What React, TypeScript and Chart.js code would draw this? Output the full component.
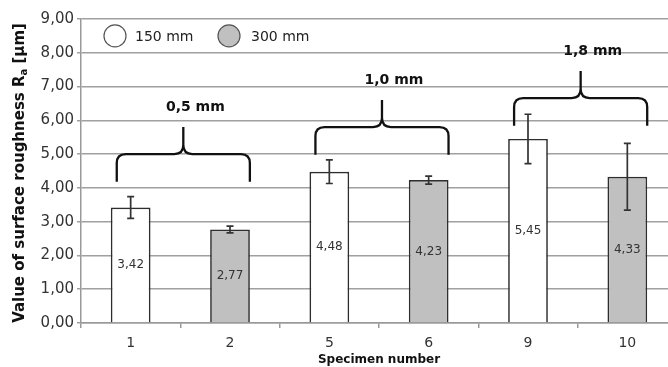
import React, { useEffect, useRef } from "react";
import { Chart, registerables } from "chart.js";

Chart.register(...registerables);

const categories = ["1", "2", "5", "6", "9", "10"];
const values = [3.42, 2.77, 4.48, 4.23, 5.45, 4.33];
const errors = [0.32, 0.1, 0.35, 0.12, 0.73, 0.99];
const seriesOf = ["150 mm", "300 mm", "150 mm", "300 mm", "150 mm", "300 mm"];
const seriesNames = ["150 mm", "300 mm"];
const seriesColors = ["#ffffff", "#c0c0c0"];
const yTicks = [0, 1, 2, 3, 4, 5, 6, 7, 8, 9];
const groupLabels = ["0,5 mm", "1,0 mm", "1,8 mm"];
const groupStart = [0, 2, 4];
const groupEnd = [1, 3, 5];
const groupLevel = [5.0, 5.8, 6.66];

const FONT = "'DejaVu Sans', sans-serif";
const fmt = (v: number) => v.toFixed(2).replace(".", ",");

const overlayPlugin = {
  id: "overlay",
  afterDatasetsDraw(chart: any) {
    const ctx = chart.ctx;
    const x = chart.scales.x;
    const y = chart.scales.y;
    const meta = chart.getDatasetMeta(0);
    ctx.save();
    // error bars
    ctx.strokeStyle = "#333333";
    ctx.lineWidth = 1.7;
    values.forEach((v, i) => {
      const bar = meta.data[i];
      const cx = bar.x;
      const yt = y.getPixelForValue(v + errors[i]);
      const yb = y.getPixelForValue(v - errors[i]);
      ctx.beginPath();
      ctx.moveTo(cx, yt);
      ctx.lineTo(cx, yb);
      ctx.moveTo(cx - 3.5, yt);
      ctx.lineTo(cx + 3.5, yt);
      ctx.moveTo(cx - 3.5, yb);
      ctx.lineTo(cx + 3.5, yb);
      ctx.stroke();
    });
    // value labels
    ctx.fillStyle = "#333333";
    ctx.font = `12px ${FONT}`;
    ctx.textAlign = "center";
    ctx.textBaseline = "middle";
    values.forEach((v, i) => {
      const bar = meta.data[i];
      const my = (y.getPixelForValue(v) + y.getPixelForValue(0)) / 2;
      ctx.fillText(fmt(v), bar.x, my);
    });
    // braces
    const catW = x.getPixelForValue(1) - x.getPixelForValue(0);
    ctx.strokeStyle = "#111111";
    ctx.lineWidth = 2.3;
    groupLabels.forEach((lab, g) => {
      const x0 = x.getPixelForValue(groupStart[g]) - catW * 0.14;
      const x1 = x.getPixelForValue(groupEnd[g]) + catW * 0.2;
      const xc = (x0 + x1) / 2;
      const yh = y.getPixelForValue(groupLevel[g]);
      const yEnd = y.getPixelForValue(groupLevel[g] - 0.82);
      const yPeak = y.getPixelForValue(groupLevel[g] + 0.8);
      const r = 9;
      ctx.beginPath();
      ctx.moveTo(x0, yEnd);
      ctx.lineTo(x0, yh + r);
      ctx.quadraticCurveTo(x0, yh, x0 + r, yh);
      ctx.lineTo(xc - r, yh);
      ctx.quadraticCurveTo(xc, yh, xc, yh - r);
      ctx.lineTo(xc, yPeak);
      ctx.moveTo(xc, yh - r);
      ctx.quadraticCurveTo(xc, yh, xc + r, yh);
      ctx.lineTo(x1 - r, yh);
      ctx.quadraticCurveTo(x1, yh, x1, yh + r);
      ctx.lineTo(x1, yEnd);
      ctx.stroke();
      ctx.fillStyle = "#111111";
      ctx.font = `bold 14px ${FONT}`;
      ctx.textAlign = "center";
      ctx.textBaseline = "middle";
      ctx.fillText(lab, xc + 12, y.getPixelForValue(groupLevel[g] + 1.38));
    });
    // legend
    const lx = [115, 229];
    const tx = [135, 251];
    const ly = y.getPixelForValue(8.5);
    seriesNames.forEach((name, s) => {
      ctx.beginPath();
      ctx.arc(lx[s], ly, 11, 0, Math.PI * 2);
      ctx.fillStyle = seriesColors[s];
      ctx.fill();
      ctx.strokeStyle = "#555555";
      ctx.lineWidth = 1.2;
      ctx.stroke();
      ctx.fillStyle = "#222222";
      ctx.font = `14px ${FONT}`;
      ctx.textAlign = "left";
      ctx.textBaseline = "middle";
      ctx.fillText(name, tx[s], ly + 1);
    });
    // y axis title with subscript
    ctx.save();
    ctx.translate(20, (chart.chartArea.top + chart.chartArea.bottom) / 2 + 2);
    ctx.rotate(-Math.PI / 2);
    ctx.fillStyle = "#111111";
    const main = "Value of surface roughness R";
    const sub = "a";
    const tail = " [µm]";
    ctx.font = `bold 15px ${FONT}`;
    const w1 = ctx.measureText(main).width;
    const w3 = ctx.measureText(tail).width;
    ctx.font = `bold 10px ${FONT}`;
    const w2 = ctx.measureText(sub).width;
    const total = w1 + w2 + w3;
    let px = -total / 2;
    ctx.textAlign = "left";
    ctx.textBaseline = "middle";
    ctx.font = `bold 15px ${FONT}`;
    ctx.fillText(main, px, 0);
    px += w1;
    ctx.font = `bold 10px ${FONT}`;
    ctx.fillText(sub, px, 4);
    px += w2;
    ctx.font = `bold 15px ${FONT}`;
    ctx.fillText(tail, px, 0);
    ctx.restore();
    ctx.restore();
  },
};

export default function App() {
  const ref = useRef<HTMLCanvasElement>(null);
  useEffect(() => {
    if (!ref.current) return;
    const chart = new Chart(ref.current, {
      type: "bar",
      data: {
        labels: categories,
        datasets: [
          {
            label: "Ra",
            data: values,
            backgroundColor: seriesOf.map((s) => seriesColors[seriesNames.indexOf(s)]),
            borderColor: "#2e2e2e",
            borderWidth: 1.7,
            barPercentage: 0.4,
            categoryPercentage: 1,
          },
        ],
      },
      options: {
        animation: false,
        responsive: false,
        maintainAspectRatio: false,
        layout: { padding: { left: 0, right: 3, top: 19, bottom: 0 } },
        plugins: { legend: { display: false }, tooltip: { enabled: false } },
        scales: {
          x: {
            afterFit: (s: any) => {
              s.height = 44;
            },
            grid: { drawOnChartArea: false, drawTicks: true, tickLength: 5, color: "#999999", lineWidth: 1.5 },
            border: { color: "#999999", width: 1.5 },
            ticks: { color: "#333333", font: { family: FONT, size: 14 }, padding: 7 },
            title: {
              display: true,
              text: "Specimen number",
              color: "#111111",
              font: { family: FONT, size: 12, weight: "bold" },
              padding: { top: 0, bottom: 0 },
            },
          },
          y: {
            min: 0,
            max: 9,
            afterFit: (s: any) => {
              s.width = 81;
            },
            afterBuildTicks: (s: any) => {
              s.ticks = yTicks.map((v) => ({ value: v }));
            },
            grid: { color: "#a0a0a0", lineWidth: 1.5, tickLength: 4 },
            border: { color: "#999999", width: 1.5 },
            ticks: {
              color: "#333333",
              font: { family: FONT, size: 15 },
              padding: 3,
              callback: (v: any) => fmt(Number(v)),
            },
          },
        },
      },
      plugins: [overlayPlugin],
    });
    return () => chart.destroy();
  }, []);
  return (
    <div style={{ position: "fixed", left: 0, top: 0, width: 668, height: 367, overflow: "hidden", background: "#fff" }}>
      <canvas ref={ref} width={680} height={367} style={{ width: 680, height: 367, display: "block" }} />
    </div>
  );
}
